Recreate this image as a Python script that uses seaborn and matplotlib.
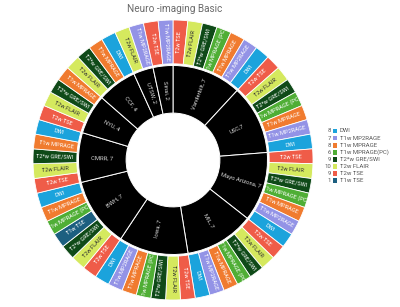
import numpy as np
import matplotlib
matplotlib.use("Agg")
import matplotlib.pyplot as plt
import seaborn as sns
from matplotlib.patches import Rectangle

# Sites (inner ring), in clockwise order from 12 o'clock
site_labels = ["Vanderbilt, 7", "USC,7", "Mayo Arizona, 7", "MIL, 7", "Iowa, 7",
               "BWH, 7", "CMRR, 7", "NYU, 4", "CCF, 4", "UTSW, 2", "Sinai, 2"]

# Sequences acquired at each site (outer ring), clockwise
full_set = ["T2w TSE", "T2w FLAIR", "T2*w GRE/SWI", "T1w MPRAGE (PC)",
            "T1w MPRAGE", "T1w MP2RAGE", "DWI"]
site_sequences = [
    full_set, full_set, full_set, full_set, full_set,
    ["T2w TSE", "T2w FLAIR", "T2*w GRE/SWI", "T1w TSE", "T1w MPRAGE (PC)", "T1w MPRAGE", "DWI"],
    ["T2w TSE", "T2w FLAIR", "T2*w GRE/SWI", "T1w MPRAGE", "DWI"],
    ["T2w TSE", "T2w FLAIR", "T2*w GRE/SWI", "T1w MPRAGE"],
    ["T2w FLAIR", "T2*w GRE/SWI", "T1w MPRAGE", "DWI"],
    ["T2w FLAIR", "T1w MP2RAGE"],
    ["T2w TSE", "T1w MP2RAGE"],
]

# Legend
legend_names = ["DWI", "T1w MP2RAGE", "T1w MPRAGE", "T1w MPRAGE(PC)",
                "T2*w GRE/SWI", "T2w FLAIR", "T2w TSE", "T1w TSE"]
legend_counts = [8, 7, 8, 6, 9, 10, 9, 1]
legend_keys = ["DWI", "T1w MP2RAGE", "T1w MPRAGE", "T1w MPRAGE (PC)",
               "T2*w GRE/SWI", "T2w FLAIR", "T2w TSE", "T1w TSE"]
seq_colors = ["#1ba3dc", "#9393e6", "#f07b2f", "#4fae35",
              "#0f4a18", "#d5e95e", "#ef5c48", "#1c5f80"]
color_of = dict(zip(legend_keys, seq_colors))
dark_text = {"T2w FLAIR"}

sns.set_theme(style="white")
plt.rcParams["font.family"] = ["Roboto", "DejaVu Sans"]

fig = plt.figure(figsize=(4.0, 3.07), dpi=100)
cx, cy, R = 173, 160, 140
ax = fig.add_axes([(cx - R) / 400, (307 - cy - R) / 307, 2 * R / 400, 2 * R / 307])

r_hole, r_mid, r_out = 0.335, 0.675, 1.0

# inner ring: one wedge per site, sized by its number of sequences
site_sizes = [len(s) for s in site_sequences]
inner, _ = ax.pie(site_sizes, radius=r_mid, startangle=90, counterclock=False,
                  colors=["black"] * len(site_sizes),
                  wedgeprops=dict(width=r_mid - r_hole, edgecolor="white", linewidth=0.7))

# outer ring: one wedge per sequence
leaves = [seq for seqs in site_sequences for seq in seqs]
outer, _ = ax.pie(np.ones(len(leaves)), radius=r_out, startangle=90, counterclock=False,
                  colors=[color_of[s] for s in leaves],
                  wedgeprops=dict(width=r_out - r_mid - 0.012, edgecolor="white", linewidth=0.6))


def radial_text(w, text, r, color, size):
    ang = (w.theta1 + w.theta2) / 2
    ang = (ang + 180) % 360 - 180
    x, y = r * np.cos(np.radians(ang)), r * np.sin(np.radians(ang))
    rot = ang
    if rot > 90:
        rot -= 180
    elif rot < -90:
        rot += 180
    t = ax.text(x, y, text, rotation=rot, rotation_mode="anchor", ha="center", va="center",
                fontsize=size, color=color)
    t.set_clip_path(w)


for w, lab in zip(inner, site_labels):
    radial_text(w, lab, (r_hole + r_mid) / 2, "#d8d8d8", 4.2)

for w, lab in zip(outer, leaves):
    radial_text(w, lab, (r_mid + r_out) / 2 + 0.005,
                "#333333" if lab in dark_text else "white", 4.1)

ax.set_xlim(-1, 1)
ax.set_ylim(-1, 1)
ax.set_aspect("equal")
ax.axis("off")

fig.text(175 / 400, 1 - 9 / 307, "Neuro -imaging Basic", ha="center", va="center",
         fontsize=7.2, color="#6a6a6a")

# legend with counts in front of the swatches
for i, (n, c, col) in enumerate(zip(legend_names, legend_counts, seq_colors)):
    y = 1 - (131 + i * 7.1) / 307
    fig.text(331 / 400, y, str(c), ha="right", va="center", fontsize=4.3, color="#555555")
    fig.patches.append(Rectangle((332.5 / 400, y - 2.3 / 307), 4.6 / 400, 4.6 / 307,
                                 transform=fig.transFigure, facecolor=col, edgecolor="none"))
    fig.text(339.5 / 400, y, n, ha="left", va="center", fontsize=4.3, color="#555555")

fig.savefig("out.png", dpi=100, facecolor="white")
